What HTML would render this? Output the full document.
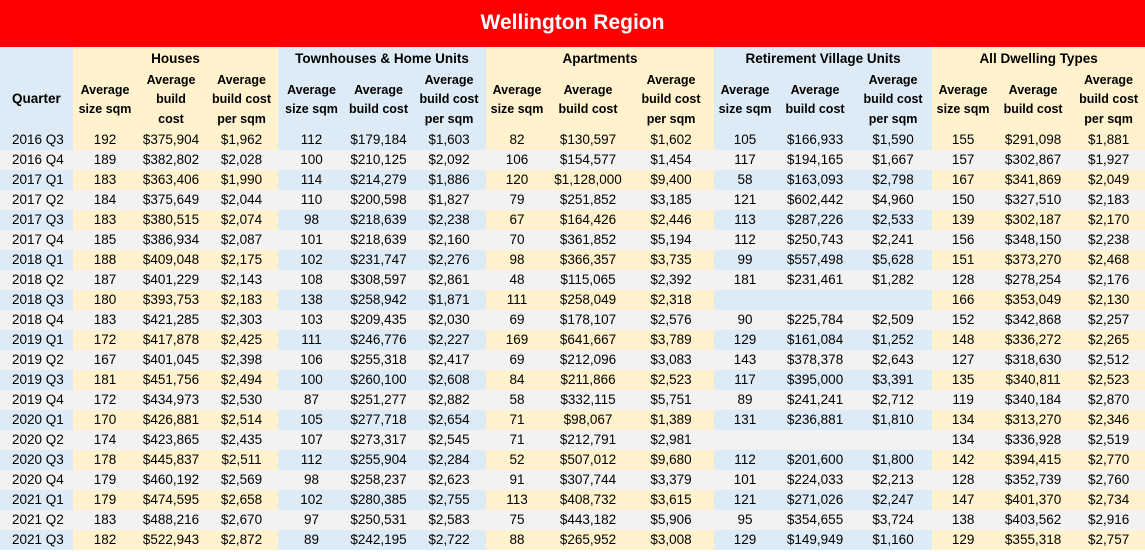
<!DOCTYPE html>
<html><head><meta charset="utf-8"><style>
body{margin:0;width:1145px;height:552px;overflow:hidden;background:#fff;font-family:"Liberation Sans",Arial,sans-serif;}
.title{height:47px;background:#ff0000;color:#fff;font-weight:bold;font-size:21px;text-align:center;line-height:45px;}
table{border-collapse:collapse;table-layout:fixed;width:1145px;}
td{padding:0;text-align:center;white-space:nowrap;overflow:hidden;font-size:13.5px;color:#000;height:20px;line-height:20px;}
.h td{font-weight:bold;font-size:12.5px;}
.g td{height:23px;line-height:23px;font-size:13.5px;}
.s td{height:60px;line-height:19.5px;}
.y{background:#fff2cc}.b{background:#ddebf7}
tr.gr td{background:#f2f2f2}
td.q{text-align:left;padding-left:12px}
</style></head><body>
<div class="title">Wellington Region</div>
<table>
<colgroup><col style="width:73px"><col style="width:64px"><col style="width:68px"><col style="width:73px"><col style="width:67px"><col style="width:67px"><col style="width:74px"><col style="width:62px"><col style="width:80px"><col style="width:86px"><col style="width:62px"><col style="width:78px"><col style="width:78px"><col style="width:62px"><col style="width:78px"><col style="width:73px"></colgroup>
<tr class="h g"><td class="b" rowspan="2" style="line-height:20px;padding-top:20px;text-align:left;padding-left:12px">Quarter</td><td class="y" colspan="3">Houses</td><td class="b" colspan="3">Townhouses &amp; Home Units</td><td class="y" colspan="3">Apartments</td><td class="b" colspan="3">Retirement Village Units</td><td class="y" colspan="3">All Dwelling Types</td></tr>
<tr class="h s"><td class="y">Average<br>size sqm</td><td class="y">Average<br>build<br>cost</td><td class="y">Average<br>build cost<br>per sqm</td><td class="b">Average<br>size sqm</td><td class="b">Average<br>build cost</td><td class="b">Average<br>build cost<br>per sqm</td><td class="y">Average<br>size sqm</td><td class="y">Average<br>build cost</td><td class="y">Average<br>build cost<br>per sqm</td><td class="b">Average<br>size sqm</td><td class="b">Average<br>build cost</td><td class="b">Average<br>build cost<br>per sqm</td><td class="y">Average<br>size sqm</td><td class="y">Average<br>build cost</td><td class="y">Average<br>build cost<br>per sqm</td></tr>
<tbody id="tb"></tbody>
</table>
<script>
var d=[
["2016 Q3","192","$375,904","$1,962","112","$179,184","$1,603","82","$130,597","$1,602","105","$166,933","$1,590","155","$291,098","$1,881"],
["2016 Q4","189","$382,802","$2,028","100","$210,125","$2,092","106","$154,577","$1,454","117","$194,165","$1,667","157","$302,867","$1,927"],
["2017 Q1","183","$363,406","$1,990","114","$214,279","$1,886","120","$1,128,000","$9,400","58","$163,093","$2,798","167","$341,869","$2,049"],
["2017 Q2","184","$375,649","$2,044","110","$200,598","$1,827","79","$251,852","$3,185","121","$602,442","$4,960","150","$327,510","$2,183"],
["2017 Q3","183","$380,515","$2,074","98","$218,639","$2,238","67","$164,426","$2,446","113","$287,226","$2,533","139","$302,187","$2,170"],
["2017 Q4","185","$386,934","$2,087","101","$218,639","$2,160","70","$361,852","$5,194","112","$250,743","$2,241","156","$348,150","$2,238"],
["2018 Q1","188","$409,048","$2,175","102","$231,747","$2,276","98","$366,357","$3,735","99","$557,498","$5,628","151","$373,270","$2,468"],
["2018 Q2","187","$401,229","$2,143","108","$308,597","$2,861","48","$115,065","$2,392","181","$231,461","$1,282","128","$278,254","$2,176"],
["2018 Q3","180","$393,753","$2,183","138","$258,942","$1,871","111","$258,049","$2,318","","","","166","$353,049","$2,130"],
["2018 Q4","183","$421,285","$2,303","103","$209,435","$2,030","69","$178,107","$2,576","90","$225,784","$2,509","152","$342,868","$2,257"],
["2019 Q1","172","$417,878","$2,425","111","$246,776","$2,227","169","$641,667","$3,789","129","$161,084","$1,252","148","$336,272","$2,265"],
["2019 Q2","167","$401,045","$2,398","106","$255,318","$2,417","69","$212,096","$3,083","143","$378,378","$2,643","127","$318,630","$2,512"],
["2019 Q3","181","$451,756","$2,494","100","$260,100","$2,608","84","$211,866","$2,523","117","$395,000","$3,391","135","$340,811","$2,523"],
["2019 Q4","172","$434,973","$2,530","87","$251,277","$2,882","58","$332,115","$5,751","89","$241,241","$2,712","119","$340,184","$2,870"],
["2020 Q1","170","$426,881","$2,514","105","$277,718","$2,654","71","$98,067","$1,389","131","$236,881","$1,810","134","$313,270","$2,346"],
["2020 Q2","174","$423,865","$2,435","107","$273,317","$2,545","71","$212,791","$2,981","","","","134","$336,928","$2,519"],
["2020 Q3","178","$445,837","$2,511","112","$255,904","$2,284","52","$507,012","$9,680","112","$201,600","$1,800","142","$394,415","$2,770"],
["2020 Q4","179","$460,192","$2,569","98","$258,237","$2,623","91","$307,744","$3,379","101","$224,033","$2,213","128","$352,739","$2,760"],
["2021 Q1","179","$474,595","$2,658","102","$280,385","$2,755","113","$408,732","$3,615","121","$271,026","$2,247","147","$401,370","$2,734"],
["2021 Q2","183","$488,216","$2,670","97","$250,531","$2,583","75","$443,182","$5,906","95","$354,655","$3,724","138","$403,562","$2,916"],
["2021 Q3","182","$522,943","$2,872","89","$242,195","$2,722","88","$265,952","$3,008","129","$149,949","$1,160","129","$355,318","$2,757"]];
var cls=["b","y","y","y","b","b","b","y","y","y","b","b","b","y","y","y"];
var h="";
d.forEach(function(r,i){h+='<tr'+(i%2?' class="gr"':'')+'>';r.forEach(function(c,j){h+='<td class="'+cls[j]+(j==0?' q':'')+'">'+c+'</td>';});h+='</tr>';});
document.getElementById("tb").innerHTML=h;
</script>
</body></html>
